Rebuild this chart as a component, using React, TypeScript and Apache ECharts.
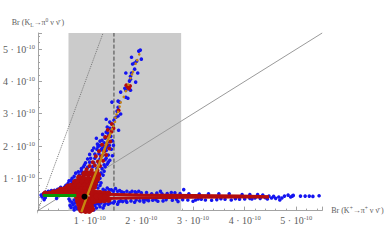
import React, { useEffect, useRef } from "react";
import * as echarts from "echarts";

const xTicks = ["", "1", "2", "3", "4", "5"];
const yTicks = ["", "1", "2", "3", "4", "5"];
const shadedRange = [0.59, 2.77];
const dashedX = 1.47;
const diagonal = [[-0.1, -0.1], [5.5, 5.5]];
const boundLine = [[-0.06, -0.26], [1.26, 5.5]];
const originTick = [[-0.12, 0], [0, 0]];
const greenLine = [[0.1, 0.47], [0.74, 0.47]];
const blackPoint = [[0.9, 0.43]];
const orangeLine = [[0.84, -0.05], [0.95, 0.45], [1.05, 0.88], [1.15, 1.3], [1.25, 1.73], [1.33, 2.1], [1.41, 2.42]];
const orangePoints = [
  [1.43, 2.52], [1.46, 2.62], [1.49, 2.75], [1.5, 2.88], [1.52, 2.98], [1.55, 3.06], [1.58, 3.22], [1.6, 3.35],
  [1.66, 3.52], [1.7, 3.7], [1.75, 3.9], [1.79, 4.1], [1.82, 4.22], [1.84, 4.3], [1.89, 4.55], [1.92, 4.66], [1.96, 4.84],
];
const bluePoints = [
  [1.98, 4.97], [1.95, 4.94], [1.81, 4.75], [2.0, 4.69], [1.87, 4.57], [1.83, 4.54], [1.91, 4.63], [1.87, 4.38],
  [1.93, 4.26], [1.7, 4.26], [1.81, 4.26], [1.79, 4.16], [1.89, 3.98], [1.79, 4.07], [1.77, 4.01], [1.79, 3.73],
  [1.7, 3.73], [1.6, 3.67], [1.68, 3.79], [1.7, 3.51], [1.74, 3.48], [1.43, 3.36], [1.55, 3.39], [1.58, 3.36],
  [1.55, 3.2], [1.53, 3.08], [1.6, 2.99], [1.55, 2.93], [1.51, 2.89], [1.32, 2.83], [1.39, 2.74], [1.47, 2.8],
  [1.45, 2.65], [1.56, 2.49], [1.34, 2.59], [1.39, 2.55], [1.32, 2.43], [1.35, 2.4], [1.13, 2.24], [1.2, 2.15],
  [1.3, 2.24], [1.25, 2.36], [1.41, 2.3], [1.28, 2.1], [1.36, 2.14], [1.44, 2.16], [1.2, 2.02], [1.28, 1.98],
  [1.38, 2.02], [1.46, 2.02], [1.14, 1.9], [1.22, 1.88], [1.32, 1.86], [1.42, 1.9], [1.05, 1.86], [1.1, 1.75],
  [1.18, 1.76], [1.26, 1.72], [1.36, 1.72], [1.44, 1.7], [1.02, 1.62], [1.1, 1.62], [1.2, 1.6], [1.3, 1.58],
  [1.39, 1.56], [0.92, 1.48], [1.0, 1.5], [1.08, 1.48], [1.18, 1.46], [1.28, 1.42], [1.34, 1.44], [0.88, 1.36],
  [0.96, 1.34], [1.06, 1.36], [1.14, 1.3], [1.24, 1.3], [0.84, 1.22], [0.92, 1.2], [1.02, 1.2], [1.12, 1.16],
  [1.22, 1.16], [1.28, 1.22], [0.73, 1.16], [0.8, 1.1], [0.88, 1.06], [0.98, 1.04], [1.1, 1.04], [1.2, 1.0],
  [0.66, 1.0], [0.72, 0.94], [0.8, 0.98], [1.16, 0.9], [0.6, 0.92], [0.66, 0.85], [0.74, 0.86], [1.13, 0.8],
  [0.54, 0.78], [0.62, 0.76], [0.5, 0.7], [0.44, 0.72], [0.56, 0.68], [0.38, 0.66], [0.46, 0.64], [0.32, 0.63],
  [0.26, 0.62], [0.36, 0.6], [0.2, 0.6], [0.14, 0.57], [0.28, 0.58], [0.1, 0.52], [0.18, 0.54], [0.08, 0.42],
  [0.14, 0.4], [0.36, 0.38], [0.12, 0.34], [0.6, 0.36], [0.62, 0.3], [0.66, 0.25], [0.7, 0.33], [0.64, 0.1],
  [0.7, 0.02], [0.73, 0.12], [0.72, 0.24], [0.76, 0.06], [1.08, 0.02], [1.13, 0.08], [1.2, 0.12], [1.26, 0.08],
  [1.1, 0.16], [1.18, 0.2], [1.28, 0.16], [1.05, 0.2], [1.36, 0.2], [1.46, 0.24], [1.54, 0.2], [1.64, 0.28],
  [1.72, 0.26], [1.34, 0.7], [1.16, 0.7], [1.26, 0.66], [1.42, 0.64], [1.5, 0.68], [1.58, 0.62], [1.72, 0.6],
  [1.88, 0.58], [1.95, 0.6], [1.8, 0.3], [1.87, 0.26], [1.97, 0.3], [2.05, 0.27], [2.14, 0.31], [2.1, 0.56],
  [2.3, 0.54], [2.37, 0.6], [2.5, 0.53], [2.22, 0.32], [2.32, 0.29], [2.42, 0.3], [1.82, 0.6], [2.04, 0.34],
  [2.6, 0.32], [2.71, 0.28], [2.8, 0.34], [2.9, 0.33], [3.0, 0.29], [2.58, 0.56], [2.82, 0.65], [2.65, 0.55],
  [2.75, 0.53], [2.92, 0.52], [3.05, 0.33], [3.12, 0.51], [3.16, 0.35], [3.24, 0.33], [3.3, 0.52],
  [3.36, 0.32], [3.46, 0.34], [3.54, 0.37], [3.5, 0.52], [3.62, 0.35], [3.74, 0.33], [3.82, 0.37], [3.7, 0.52],
  [3.9, 0.35], [4.0, 0.36], [4.1, 0.38], [4.14, 0.36], [4.2, 0.39], [4.3, 0.38], [4.4, 0.4], [4.47, 0.45],
  [4.52, 0.39], [4.56, 0.44], [4.6, 0.38], [4.66, 0.42], [4.68, 0.33], [4.72, 0.39], [4.77, 0.45], [4.84, 0.48],
  [4.89, 0.42], [4.92, 0.45], [4.94, 0.47], [5.08, 0.45], [5.17, 0.45], [5.25, 0.45], [5.32, 0.44], [5.44, 0.46],
  [4.44, 0.36], [4.35, 0.48], [4.25, 0.5], [4.1, 0.5], [3.95, 0.5],
  [1.15, 2.06], [1.24, 2.18], [1.08, 1.94], [1.16, 1.98], [1.0, 1.74], [0.96, 1.6], [1.24, 1.92], [1.33, 1.96],
  [0.9, 1.42], [1.32, 1.62], [1.36, 1.5], [0.84, 1.3], [1.3, 1.36], [0.78, 1.2], [0.86, 1.14], [1.26, 1.1],
  [0.7, 1.06], [0.64, 0.94], [1.22, 0.86], [0.58, 0.84], [1.2, 0.78], [0.52, 0.74], [0.42, 0.68], [0.24, 0.58],
  [0.06, 0.48], [0.62, 0.16], [0.68, 0.18], [0.7, 0.08], [1.14, 0.22], [1.22, 0.24], [1.3, 0.22], [1.4, 0.24],
  [1.48, 0.28], [1.56, 0.27], [1.6, 0.3], [1.7, 0.31], [1.3, 0.62], [1.38, 0.64], [1.46, 0.6], [1.54, 0.6],
  [1.62, 0.58], [1.66, 0.56], [1.78, 0.55], [1.9, 0.55], [2.0, 0.55], [2.2, 0.52], [2.4, 0.52],
  [1.9, 0.33], [2.1, 0.34], [2.28, 0.34], [2.48, 0.34], [2.68, 0.35], [3.1, 0.36],
];
const redPoints = [
  [1.43, 2.68], [1.46, 2.55], [1.35, 2.5], [1.42, 2.44], [1.78, 3.86], [1.74, 3.82], [1.71, 3.88], [1.76, 3.78],
  [1.56, 3.1], [1.37, 2.3], [1.3, 2.28], [1.4, 2.14], [1.33, 2.05],
  [1.24, 2.04], [1.38, 1.92], [1.28, 1.84], [1.18, 1.84], [1.32, 1.72], [1.22, 1.68], [1.12, 1.68], [1.26, 1.54],
  [1.16, 1.52], [1.06, 1.5], [1.2, 1.38], [1.1, 1.4], [1.0, 1.38], [0.94, 1.28], [1.04, 1.26], [1.15, 1.24],
];
const redBandUpper = [[1.0, 0.52], [1.5, 0.5], [2.0, 0.48], [3.0, 0.47], [3.9, 0.45], [4.47, 0.43]];
const redBandLower = [[1.0, 0.36], [1.5, 0.38], [2.0, 0.4], [3.0, 0.41], [3.9, 0.42], [4.47, 0.42]];
const redCore = [
  [0.9, 1.14], [0.98, 1.14], [1.07, 1.12], [1.16, 1.1], [0.8, 1.02], [0.88, 0.98], [0.97, 0.98], [1.06, 0.98],
  [1.14, 0.98], [0.72, 0.88], [0.78, 0.88], [0.86, 0.86], [0.95, 0.86], [1.04, 0.86], [1.1, 0.86], [0.58, 0.74],
  [0.64, 0.76], [0.72, 0.76], [0.8, 0.76], [0.9, 0.76], [0.98, 0.76], [1.08, 0.74], [0.44, 0.64], [0.52, 0.66],
  [0.6, 0.66], [0.68, 0.66], [0.76, 0.66], [0.84, 0.66], [0.92, 0.66], [1.0, 0.66], [0.3, 0.56], [0.38, 0.58],
  [0.46, 0.58], [0.54, 0.58], [0.62, 0.58], [0.7, 0.58], [0.78, 0.58], [0.86, 0.56], [0.94, 0.56], [1.02, 0.56],
  [0.14, 0.52], [0.22, 0.52], [0.3, 0.52], [0.38, 0.52], [0.46, 0.52], [0.54, 0.52], [0.62, 0.52], [0.7, 0.52],
  [0.78, 0.5], [0.86, 0.48], [0.76, 0.42], [0.82, 0.38], [0.9, 0.36], [0.98, 0.34], [0.78, 0.3], [0.86, 0.28],
  [0.94, 0.26], [1.02, 0.26], [0.8, 0.2], [0.86, 0.16], [0.94, 0.16], [1.02, 0.14], [1.08, 0.3], [0.82, 0.08],
  [0.89, 0.07], [0.96, 0.06], [1.04, 0.05], [0.84, 0.01], [0.92, 0], [0.99, 0.0], [1.06, 0.44], [1.08, 0.56],
  [1.14, 0.54], [1.2, 0.54], [1.28, 0.52], [1.36, 0.52], [1.08, 0.36], [1.14, 0.32], [1.2, 0.32], [1.28, 0.33],
  [1.36, 0.34], [1.14, 0.44], [1.22, 0.43], [1.3, 0.43],
];

const textColor = "#5c5c5c";
const fontFamily = '"Liberation Serif", serif';
const tickRich = {
  a: { fontFamily, fontSize: 10, color: textColor },
  b: { fontFamily, fontSize: 6.5, color: textColor, verticalAlign: "top", lineHeight: 13 },
};
const nameRich = {
  a: { fontFamily, fontSize: 8, color: textColor },
  s: { fontFamily, fontSize: 5.5, color: textColor, verticalAlign: "bottom", lineHeight: 11 },
  u: { fontFamily, fontSize: 5.5, color: textColor, verticalAlign: "top", lineHeight: 11 },
};
const tickLabel = (n: string) => (n ? `{a|${n} · 10}{b|-10}` : "");
const fromTicks = (ticks: string[]) => (v: number) => tickLabel(ticks[Math.round(v)] ?? "");

const axisColor = "#a3a3a3";
const axisBase = {
  type: "value" as const,
  min: 0,
  max: 5.5,
  interval: 1,
  splitLine: { show: false },
  axisLine: { show: true, onZero: false, lineStyle: { color: axisColor, width: 1 } },
  axisTick: { show: true, inside: true, length: 4, lineStyle: { color: axisColor } },
  minorTick: { show: true, splitNumber: 5, length: 2, lineStyle: { color: axisColor } },
  showMinLabel: false,
  showMaxLabel: false,
};

const lineSeries = (data: number[][], color: string, width: number, type: string, z: number) => ({
  type: "line" as const,
  data,
  z,
  clip: false,
  symbol: "none",
  lineStyle: { color, width, type },
  silent: true,
});
const dots = (data: number[][], color: string, size: number, z: number) => ({
  type: "scatter" as const,
  data,
  z,
  clip: false,
  symbolSize: size,
  itemStyle: { color, opacity: 1 },
  silent: true,
});

export default function App() {
  const ref = useRef<HTMLDivElement>(null);
  useEffect(() => {
    const chart = echarts.init(ref.current!, null, { renderer: "svg" });
    chart.setOption({
      animation: false,
      backgroundColor: "#ffffff",
      grid: { left: 34, top: 33, width: 288.2, height: 177.6 },
      xAxis: {
        ...axisBase,
        name: "{a|Br (K}{u|+}{a|→π}{u|+}{a| ν ν̄ )}",
        nameLocation: "end",
        nameGap: 9,
        nameTextStyle: { rich: nameRich, align: "left", verticalAlign: "middle" },
        axisLabel: { formatter: fromTicks(xTicks), rich: tickRich, margin: 3 },
      },
      yAxis: {
        ...axisBase,
        name: "{a|Br (K}{s|L}{a|→π}{u|0}{a| ν ν̄ )}",
        nameLocation: "end",
        nameGap: 5,
        nameTextStyle: { rich: nameRich, align: "center" },
        axisLabel: { formatter: fromTicks(yTicks), rich: tickRich, margin: 3 },
      },
      series: [
        {
          type: "line",
          data: [],
          z: 0,
          silent: true,
          markArea: {
            silent: true,
            itemStyle: { color: "#cbcbcb" },
            data: [[{ xAxis: shadedRange[0], yAxis: 0 }, { xAxis: shadedRange[1], yAxis: 5.5 }]],
          },
        },
        lineSeries(diagonal, "#9a9a9a", 1, "solid", 1),
        lineSeries(boundLine, "#777777", 1, "dotted", 1),
        lineSeries(originTick, axisColor, 1, "solid", 1),
        lineSeries([[dashedX, 0], [dashedX, 5.5]], "#444444", 1, "dashed", 1),
        dots(bluePoints, "#1414f0", 3.6, 3),
        dots(redPoints, "#b30d0d", 4, 4),
        dots(redCore, "#b30d0d", 6.5, 4),
        lineSeries(redBandUpper, "#b30d0d", 3, "solid", 4),
        lineSeries(redBandLower, "#b30d0d", 3, "solid", 4),
        lineSeries(orangeLine, "#c8860f", 2.4, "solid", 5),
        dots(orangePoints, "#c8860f", 2.6, 5),
        lineSeries(greenLine, "#069a06", 3, "solid", 6),
        dots(blackPoint, "#000000", 6, 7),
      ],
    });
    return () => chart.dispose();
  }, []);
  return <div ref={ref} style={{ position: "fixed", left: 0, top: 0, width: 388, height: 240 }} />;
}
